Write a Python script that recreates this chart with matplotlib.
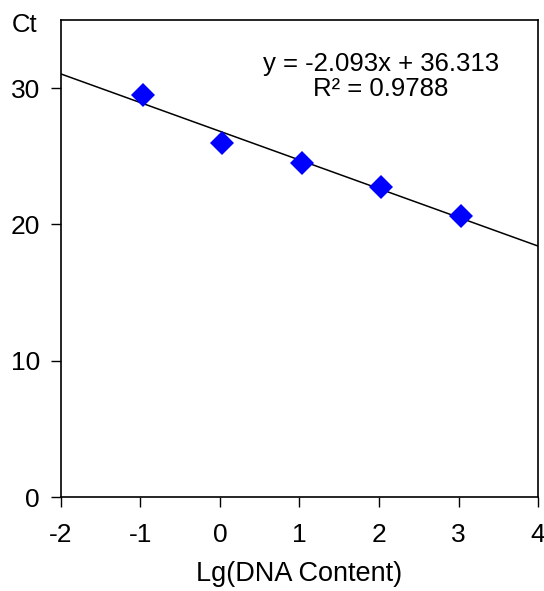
import matplotlib.pyplot as plt
import numpy as np

plt.rcParams['font.family'] = ['Liberation Sans', 'DejaVu Sans']
plt.rcParams['axes.unicode_minus'] = False

# log10 of DNA content and measured Ct
lg_dna = [-0.97, 0.03, 1.03, 2.03, 3.03]
ct = [29.5, 26.0, 24.5, 22.75, 20.6]
x_ticks = [-2, -1, 0, 1, 2, 3, 4]
y_ticks = [0, 10, 20, 30]
eq_text = 'y = -2.093x + 36.313\nR² = 0.9788'

fig = plt.figure(figsize=(5.44, 5.91), dpi=100)
ax = fig.add_axes([0.112, 0.159, 0.877, 0.807])

# trend line across the whole x range
slope, icpt = np.polyfit(lg_dna, ct, 1)
xl = np.array([-2, 4])
ax.plot(xl, slope * xl + icpt, color='black', lw=1.1)

ax.plot(lg_dna, ct, 'D', color='#0000ff', markersize=12, markeredgewidth=0)

ax.set_xlim(-2, 4)
ax.set_ylim(0, 35)
ax.set_xticks(x_ticks)
ax.set_yticks(y_ticks)
ax.tick_params(direction='out', length=7, width=1, labelsize=19)
ax.tick_params(axis='x', pad=12)
ax.tick_params(axis='y', pad=8)
for s in ax.spines.values():
    s.set_linewidth(1.2)

ax.set_xlabel('Lg(DNA Content)', fontsize=19.5, labelpad=10)
fig.text(0.046, 0.957, 'Ct', fontsize=18.5, ha='center', va='center')
ax.text(0.671, 0.882, eq_text, transform=ax.transAxes, fontsize=18.5,
        ha='center', va='center', linespacing=1.05)

fig.savefig('out.png', dpi=100)
